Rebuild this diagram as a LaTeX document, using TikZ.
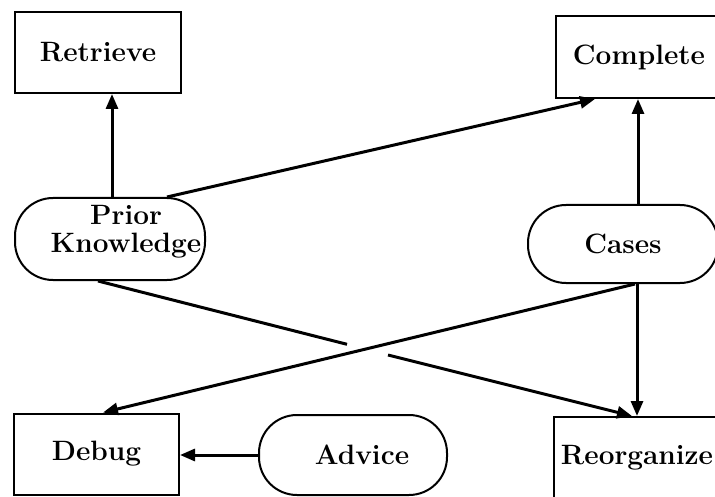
\documentclass[tikz,border=0pt]{standalone}
\usetikzlibrary{arrows.meta}
\begin{document}
\begin{tikzpicture}[x=1pt,y=-1pt,
  lbl/.style={font=\fontsize{28}{28}\selectfont\bfseries, align=center, inner sep=0pt},
  boxnode/.style={draw, line width=2pt, inner sep=0pt},
  roundnode/.style={draw, line width=2pt, rounded corners=38pt, inner sep=0pt},
  conn/.style={line width=3pt, -{Triangle[length=15pt,width=12pt]}},
  plainconn/.style={line width=3pt}]
\clip (0,0) rectangle (715,497);
\fill[white] (0,0) rectangle (715,497);
% boxes
\node[boxnode, minimum width=166pt, minimum height=81pt, lbl] (ret) at (98,52.5) {Retrieve};
\node[boxnode, minimum width=166pt, minimum height=82pt, lbl] (comp) at (639,57) {Complete};
\node[roundnode, minimum width=190pt, minimum height=82pt] (pk) at (110,239) {};
\node[lbl] (pkt) at (126,231.5) {Prior\\Knowledge};
\node[roundnode, minimum width=190pt, minimum height=78pt, lbl] (cases) at (623,244) {Cases};
\node[boxnode, minimum width=165pt, minimum height=81pt, lbl] (debug) at (96.5,454) {Debug};
\node[roundnode, minimum width=188pt, minimum height=80pt] (adv) at (353,455) {};
\node[lbl] (advt) at (362,455) {Advice};
\node[boxnode, minimum width=166pt, minimum height=81pt, lbl] (reorg) at (637,457.5) {Reorganize};
% gap coordinates
\coordinate (gapA) at (347,344.3);
\coordinate (gapB) at (388,355);
% connectors
\draw[conn] ([xshift=2pt]pk.north) -- ([xshift=14pt]ret.south);
\draw[conn] ([xshift=57pt]pk.north) -- ([xshift=-44pt]comp.south);
\draw[conn] ([xshift=15pt]cases.north) -- ([xshift=-1pt]comp.south);
\draw[conn] ([xshift=14pt]cases.south) -- (reorg.north);
\draw[conn] ([xshift=12pt]cases.south) -- ([xshift=6.5pt]debug.north);
\draw[plainconn] ([xshift=-12pt]pk.south) -- (gapA);
\draw[conn] (gapB) -- ([xshift=-5pt]reorg.north);
\draw[conn] (adv.west) -- (debug.east |- adv.west);
\end{tikzpicture}
\end{document}
